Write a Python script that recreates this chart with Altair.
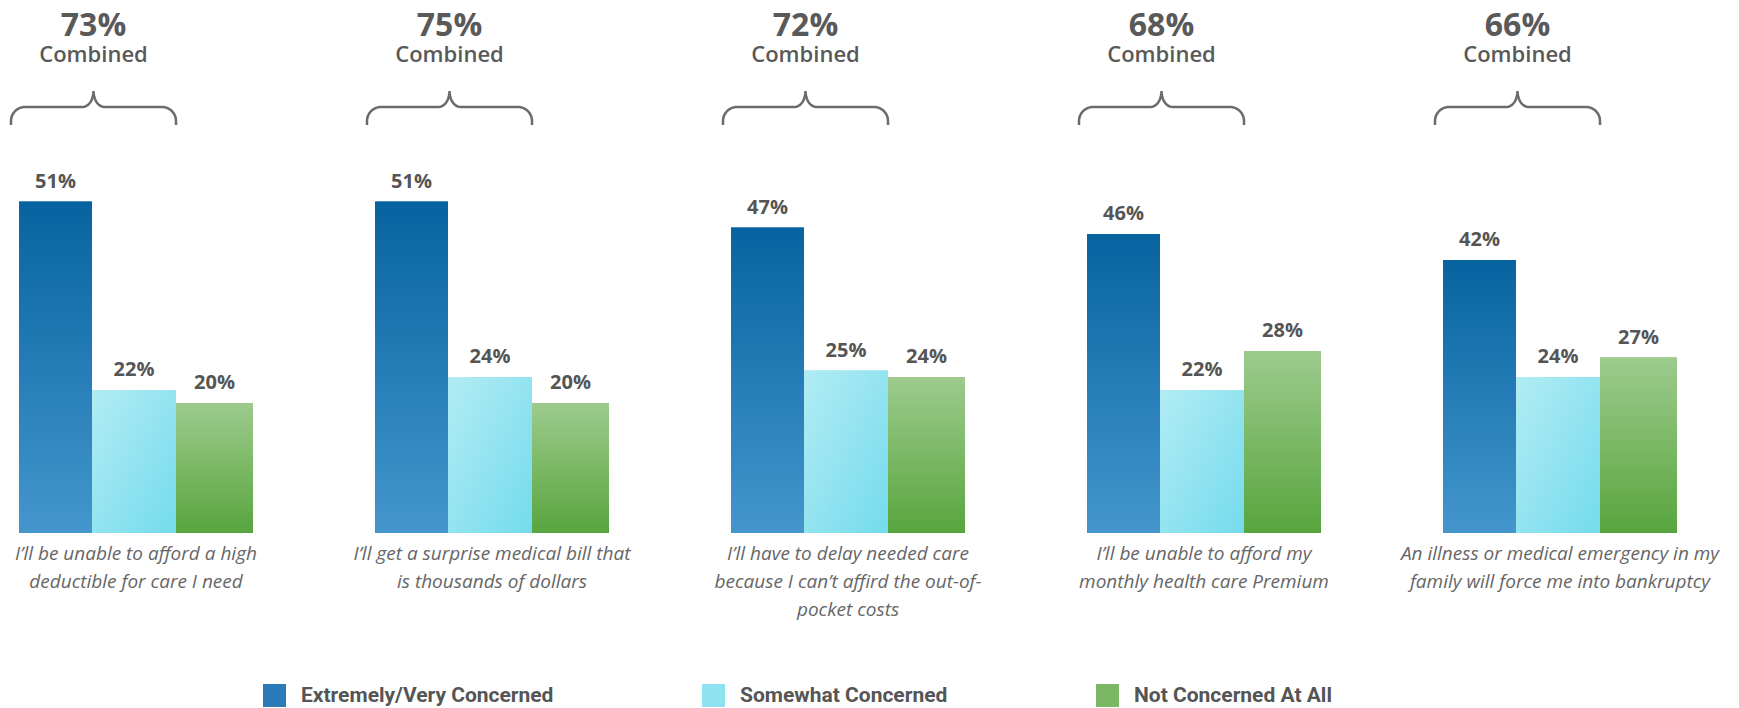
import altair as alt
import pandas as pd
import numpy as np

# ---------------- data ----------------
categories = [
    "I’ll be unable to afford a high\ndeductible for care I need",
    "I’ll get a surprise medical bill that\nis thousands of dollars",
    "I’ll have to delay needed care\nbecause I can’t affird the out-of-\npocket costs",
    "I’ll be unable to afford my\nmonthly health care Premium",
    "An illness or medical emergency in my\nfamily will force me into bankruptcy",
]
series = ["Extremely/Very Concerned", "Somewhat Concerned", "Not Concerned At All"]
extremely = [51, 51, 47, 46, 42]
somewhat = [22, 24, 25, 22, 24]
not_at_all = [20, 20, 24, 28, 27]
combined = [73, 75, 72, 68, 66]

# ---------------- layout ----------------
W, H = 1723, 700
PITCH = 356.0          # px per group
PXPCT = 6.5            # px per percentage point
BASE_PX = 525.0        # baseline position from top of plot
EDGES = [0, 73, 157, 234]   # bar edges within a group (px)
FONT = "Open Sans"
x_dom = [-11 / PITCH, (W - 11) / PITCH]
y_dom = [-(H - BASE_PX) / PXPCT, BASE_PX / PXPCT]

xs = alt.Scale(domain=x_dom, nice=False, zero=False)
ys = alt.Scale(domain=y_dom, nice=False, zero=False)

vals = [extremely, somewhat, not_at_all]
rows = []
for g in range(len(categories)):
    for s, name in enumerate(series):
        x0 = g + EDGES[s] / PITCH
        x1 = g + EDGES[s + 1] / PITCH
        rows.append(dict(g=g, series=name, value=vals[s][g], base=0,
                         x0=x0, x1=x1, xc=(x0 + x1) / 2,
                         label=f"{vals[s][g]}%"))
bars = pd.DataFrame(rows)

cats = pd.DataFrame(dict(g=list(range(len(categories))), cat=categories,
                         comb=[f"{c}%" for c in combined]))
cats["xc"] = cats["g"] + (EDGES[-1] / 2) / PITCH
cats["base"] = 0

# brace
BR_LEFT, BR_W = -8, 165
BR_BASE = (BASE_PX - 117) / PXPCT
H1, H2, R_END, RCX, RCY = 18, 34, 14, 11, 16


def brace_template(w, n=14):
    pts = [(0.0, 0.0)]
    for t in np.linspace(0, np.pi / 2, n):
        pts.append((R_END - R_END * np.cos(t), (H1 - R_END) + R_END * np.sin(t)))
    cx = w / 2
    for t in np.linspace(0, np.pi / 2, n):
        pts.append((cx - RCX + RCX * np.sin(t), H2 - RCY * np.cos(t)))
    right = [(w - x, y) for x, y in reversed(pts)]
    return pts + right[1:]


brows = []
tmpl = brace_template(BR_W)
for g in range(len(categories)):
    for i, (px, py) in enumerate(tmpl):
        brows.append(dict(g=g, i=i, x=g + (BR_LEFT + px) / PITCH, y=BR_BASE + py / PXPCT))
brace_df = pd.DataFrame(brows)

cats["bx"] = cats["g"] + (BR_LEFT + BR_W / 2) / PITCH
cats["by"] = BR_BASE + H2 / PXPCT

# ---------------- marks ----------------
solid_colors = ["#2a7bb7", "#8fe2ef", "#7ab866"]

solid = alt.Chart(bars).mark_bar().encode(
    x=alt.X("x0:Q", scale=xs, axis=None),
    x2="x1:Q",
    y=alt.Y("value:Q", scale=ys, axis=None),
    y2="base:Q",
    color=alt.Color(
        "series:N",
        scale=alt.Scale(domain=series, range=solid_colors),
        legend=alt.Legend(
            orient="none", legendX=255, legendY=676, direction="horizontal",
            title=None, symbolType="square", symbolSize=529, symbolStrokeWidth=0,
            symbolOpacity=1, labelFont="Roboto", labelFontSize=21,
            labelFontWeight="bold", labelColor="#555555", labelOffset=15,
            columnPadding=148, labelLimit=500, padding=0,
        ),
    ),
)

grads = [
    alt.Gradient(gradient="linear", x1=0, x2=0, y1=0, y2=1,
                 stops=[alt.GradientStop(color="#0763a0", offset=0),
                        alt.GradientStop(color="#4496cd", offset=1)]),
    alt.Gradient(gradient="linear", x1=0, x2=1, y1=0, y2=1,
                 stops=[alt.GradientStop(color="#b2ecf4", offset=0),
                        alt.GradientStop(color="#74dbec", offset=1)]),
    alt.Gradient(gradient="linear", x1=0, x2=0, y1=0, y2=1,
                 stops=[alt.GradientStop(color="#9dcb8d", offset=0),
                        alt.GradientStop(color="#58a53e", offset=1)]),
]

grad_layers = []
for s, name in enumerate(series):
    grad_layers.append(
        alt.Chart(bars).transform_filter(alt.datum.series == name)
        .mark_bar(color=grads[s])
        .encode(x=alt.X("x0:Q", scale=xs, axis=None), x2="x1:Q",
                y=alt.Y("value:Q", scale=ys, axis=None), y2="base:Q")
    )

value_text = alt.Chart(bars).mark_text(
    dy=-14, baseline="alphabetic", align="center", font=FONT, fontSize=20,
    fontWeight="bold", color="#555555",
).encode(x=alt.X("xc:Q", scale=xs, axis=None),
         y=alt.Y("value:Q", scale=ys, axis=None), text="label:N")

cat_text = alt.Chart(cats).mark_text(
    dy=12, baseline="top", align="center", font=FONT, fontSize=19,
    fontStyle="italic", color="#666666", lineBreak="\n", lineHeight=28,
).encode(x=alt.X("xc:Q", scale=xs, axis=None),
         y=alt.Y("base:Q", scale=ys, axis=None), text="cat:N")

brace = alt.Chart(brace_df).mark_line(
    color="#6b6b6b", strokeWidth=2.5, interpolate="linear",
).encode(x=alt.X("x:Q", scale=xs, axis=None),
         y=alt.Y("y:Q", scale=ys, axis=None),
         detail="g:N", order="i:Q")

comb_pct = alt.Chart(cats).mark_text(
    dy=-55, baseline="alphabetic", align="center", font=FONT, fontSize=32,
    fontWeight="bold", color="#595959",
).encode(x=alt.X("bx:Q", scale=xs, axis=None),
         y=alt.Y("by:Q", scale=ys, axis=None), text="comb:N")

comb_word = alt.Chart(cats).mark_text(
    dy=-29, baseline="alphabetic", align="center", font=FONT, fontSize=22,
    fontWeight=600, color="#595959",
).encode(x=alt.X("bx:Q", scale=xs, axis=None),
         y=alt.Y("by:Q", scale=ys, axis=None), text=alt.value("Combined"))

chart = alt.layer(
    solid, *grad_layers, value_text, cat_text, brace, comb_pct, comb_word
).properties(
    width=W, height=H, padding=0,
    autosize=alt.AutoSizeParams(type="none"),
).configure_view(stroke=None)

chart.save("out.html", embed_options={"renderer": "svg", "actions": False})
